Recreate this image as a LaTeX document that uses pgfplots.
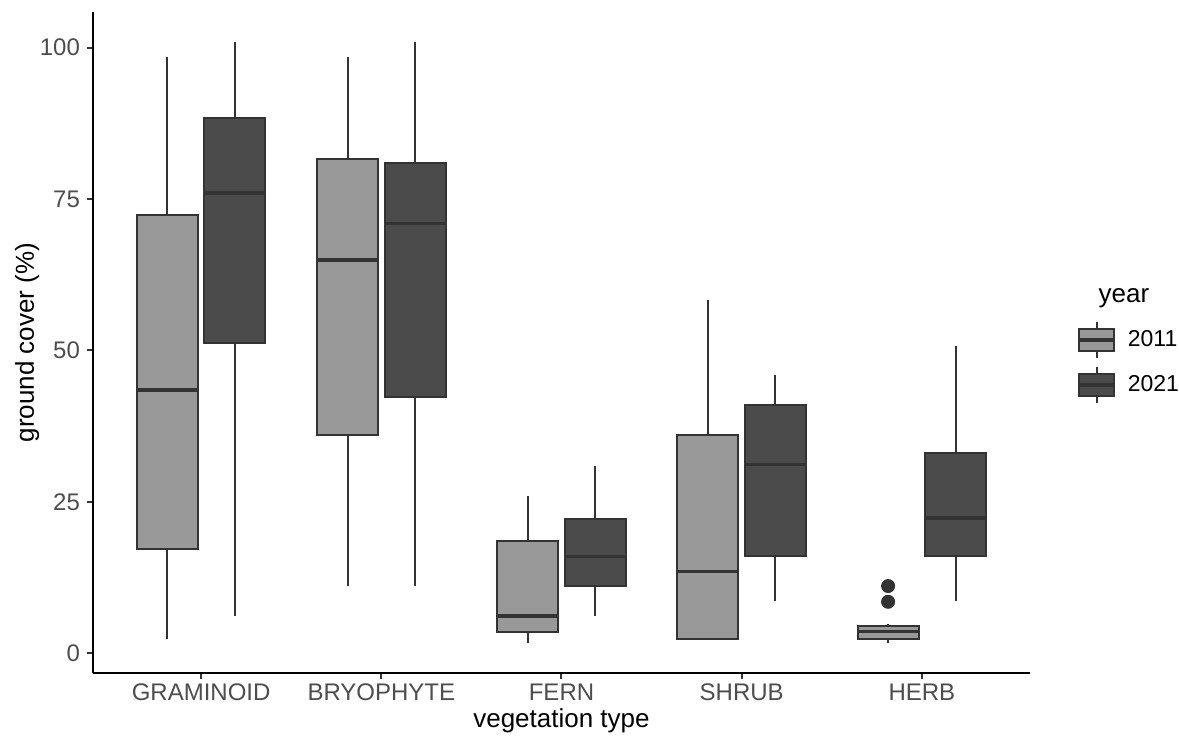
\documentclass[border=0pt]{standalone}
\usepackage{fontspec}
\setmainfont{Liberation Sans}
\usepackage{pgfplots}
\pgfplotsset{compat=1.18}
\usepgfplotslibrary{statistics}
\definecolor{fillA}{HTML}{999999}
\definecolor{fillB}{HTML}{4B4B4B}
\definecolor{edge}{HTML}{333333}
\definecolor{ticktext}{HTML}{4D4D4D}
\pgfplotsset{
  gbox/.style={forget plot, boxplot/draw direction=y, boxplot/box extend=0.3375,
    boxplot/whisker extend=0, draw=edge, line width=1pt,
    boxplot/every median/.style={line width=1.8pt},
    mark=*, mark size=3pt, mark options={fill=edge, draw=edge}},
}
\begin{document}
\begin{tikzpicture}
\useasboundingbox (-46.5pt,-31pt) rectangle (543pt,336.5pt);
\begin{axis}[
  scale only axis, width=468.5pt, height=330.5pt,
  xmin=0.4, xmax=5.6, ymin=-3.26, ymax=105.9,
  clip=false,
  axis lines=left, axis line style={-, line width=1pt, black},
  xtick={1,2,3,4,5}, xticklabels={GRAMINOID,BRYOPHYTE,FERN,SHRUB,HERB},
  ytick={0,25,50,75,100},
  /pgf/number format/assume math mode=true,
  tick align=outside, major tick length=3pt,
  tick style={edge, line width=1pt},
  ticklabel style={font=\fontsize{12}{14}\selectfont, text=ticktext},
  xticklabel style={yshift=1pt},
  xlabel={vegetation type}, ylabel={ground cover (\%)},
  label style={font=\fontsize{13}{15}\selectfont},
  xlabel style={at={(axis description cs:0.5,-0.0726)}, anchor=center},
  ylabel style={at={(axis description cs:-0.0704,0.5)}, anchor=center},
  legend style={at={(1.050,0.533)}, anchor=north west, draw=none, fill=none,
    inner sep=0pt, row sep=3.5pt, column sep=6pt,
    font=\fontsize{11.5}{13}\selectfont, nodes={inner sep=0pt}},
  legend cell align=left,
]
\addlegendimage{legend image code/.code={
  \draw[edge, line width=1pt] (8.75pt,-9pt) -- (8.75pt,9pt);
  \draw[edge, fill=fillA, line width=1pt] (0pt,-5.5pt) rectangle (17.5pt,5.5pt);
  \draw[edge, line width=1.8pt] (0pt,0pt) -- (17.5pt,0pt);}}
\addlegendentry{2011}
\addlegendimage{legend image code/.code={
  \draw[edge, line width=1pt] (8.75pt,-9pt) -- (8.75pt,9pt);
  \draw[edge, fill=fillB, line width=1pt] (0pt,-5.5pt) rectangle (17.5pt,5.5pt);
  \draw[edge, line width=1.8pt] (0pt,0pt) -- (17.5pt,0pt);}}
\addlegendentry{2021}

% GRAMINOID
\addplot[gbox, fill=fillA, boxplot prepared={draw position=0.8125,
  lower whisker=2.3, lower quartile=17.3, median=43.5, upper quartile=72.3, upper whisker=98.4}] coordinates {};
\addplot[gbox, fill=fillB, boxplot prepared={draw position=1.1875,
  lower whisker=6.1, lower quartile=51.2, median=76.0, upper quartile=88.4, upper whisker=100.9}] coordinates {};
% BRYOPHYTE
\addplot[gbox, fill=fillA, boxplot prepared={draw position=1.8125,
  lower whisker=11.1, lower quartile=36.1, median=64.9, upper quartile=81.6, upper whisker=98.4}] coordinates {};
\addplot[gbox, fill=fillB, boxplot prepared={draw position=2.1875,
  lower whisker=11.1, lower quartile=42.3, median=71.0, upper quartile=80.9, upper whisker=100.9}] coordinates {};
% FERN
\addplot[gbox, fill=fillA, boxplot prepared={draw position=2.8125,
  lower whisker=1.7, lower quartile=3.5, median=6.2, upper quartile=18.5, upper whisker=26.0}] coordinates {};
\addplot[gbox, fill=fillB, boxplot prepared={draw position=3.1875,
  lower whisker=6.2, lower quartile=11.1, median=16.0, upper quartile=22.2, upper whisker=31.0}] coordinates {};
% SHRUB
\addplot[gbox, fill=fillA, boxplot prepared={draw position=3.8125,
  lower whisker=2.3, lower quartile=2.3, median=13.5, upper quartile=36.0, upper whisker=58.4}] coordinates {};
\addplot[gbox, fill=fillB, boxplot prepared={draw position=4.1875,
  lower whisker=8.6, lower quartile=16.0, median=31.2, upper quartile=41.0, upper whisker=45.9}] coordinates {};
% HERB
\addplot[gbox, fill=fillA, boxplot prepared={draw position=4.8125,
  lower whisker=1.7, lower quartile=2.4, median=3.6, upper quartile=4.5, upper whisker=4.9}]
  table[row sep=\\, y index=0] {data\\ 11.1\\ 8.5\\};
\addplot[gbox, fill=fillB, boxplot prepared={draw position=5.1875,
  lower whisker=8.6, lower quartile=16.0, median=22.3, upper quartile=33.0, upper whisker=50.8}] coordinates {};

\node[font=\fontsize{13}{15}\selectfont, anchor=center] at (rel axis cs:1.1003,0.567) {year};
\end{axis}
\end{tikzpicture}
\end{document}
